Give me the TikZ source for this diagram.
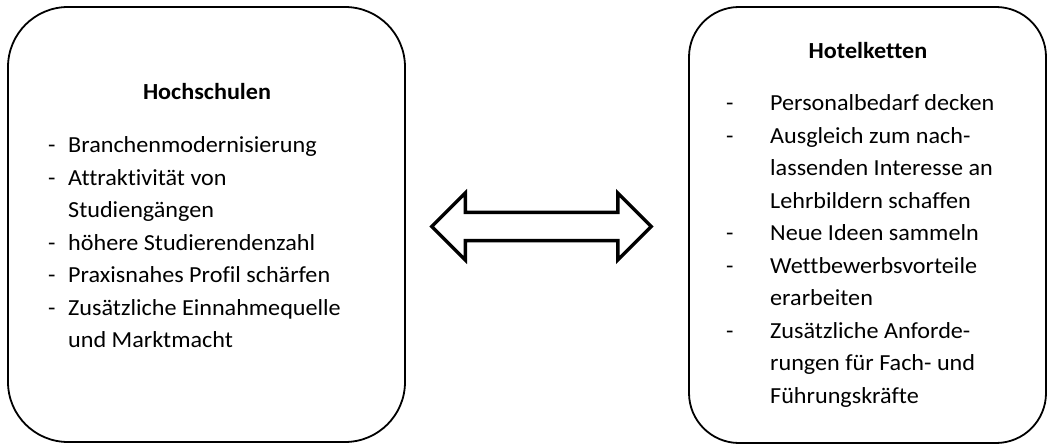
\documentclass[tikz,border=0pt]{standalone}
\usepackage{fontspec}
\setmainfont[Ligatures=CommonOff, FakeStretch=1.05]{Carlito}
\usetikzlibrary{shapes.arrows}

\begin{document}
\begin{tikzpicture}[x=1pt, y=-1pt,
    font=\fontsize{23}{32.5}\selectfont,
    box/.style={draw, line width=1.8pt, rounded corners=#1, inner sep=0pt},
    titel/.style={anchor=base, font=\fontsize{23}{32.5}\selectfont\bfseries},
    liste/.style={anchor=base west, inner sep=0pt}]
  \useasboundingbox (0,0) rectangle (1048,446);

  \node [box=60, minimum width=397pt, minimum height=435pt] (hs) at (206.5,224.5) {};
  \node [box=50, minimum width=357pt, minimum height=436pt] (hk) at (867.5,225) {};

  \node [titel] (hstitel) at (207,100) {Hochschulen};
  \node [liste] (hsliste) at (48,153) {\begin{tabular}[t]{@{}p{20pt}@{}l@{}}
    - & Branchenmodernisierung \\
    - & Attraktivität von \\
      & Studiengängen \\
    - & höhere Studierendenzahl \\
    - & Praxisnahes Profil schärfen \\
    - & Zusätzliche Einnahmequelle \\
      & und Marktmacht
  \end{tabular}};

  \node [titel] (hktitel) at (868,59) {Hotelketten};
  \node [liste] (hkliste) at (726,111) {\begin{tabular}[t]{@{}p{44pt}@{}l@{}}
    - & Personalbedarf decken \\
    - & Ausgleich zum nach- \\
      & lassenden Interesse an \\
      & Lehrbildern schaffen \\
    - & Neue Ideen sammeln \\
    - & Wettbewerbsvorteile \\
      & erarbeiten \\
    - & Zusätzliche Anforde- \\
      & rungen für Fach- und \\
      & Führungskräfte
  \end{tabular}};

  \node [double arrow, draw, line width=3.5pt, inner xsep=0pt, inner ysep=12.25pt,
         minimum height=219.5pt, double arrow head extend=19.5pt] (pfeil) at (541.5,226.5) {};
\end{tikzpicture}
\end{document}
